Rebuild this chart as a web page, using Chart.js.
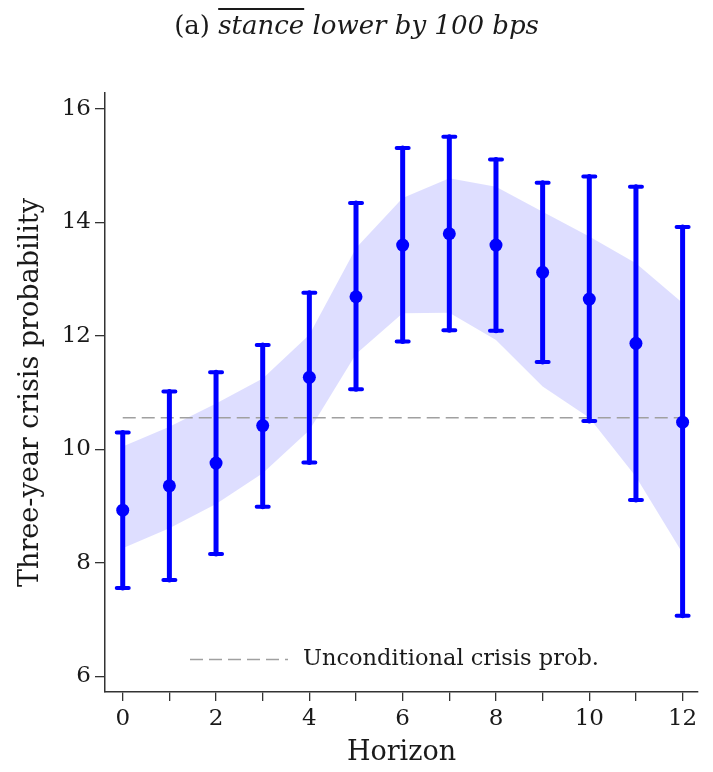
<!DOCTYPE html>
<html>
<head>
<meta charset="utf-8">
<script src="https://cdn.jsdelivr.net/npm/chart.js@4/dist/chart.umd.min.js"></script>
<style>
  html, body { margin: 0; padding: 0; background: #fff; }
  #wrap { position: relative; width: 713px; height: 772px; }
  #baslik {
    position: absolute; left: 0; top: 7px; width: 713px; text-align: center;
    font-family: 'DejaVu Serif', serif; font-size: 26px; line-height: 36px; color: #1a1a1a;
  }
  #baslik em { font-style: italic; }
  #baslik .ust { text-decoration: overline; text-decoration-thickness: 1.5px; }
</style>
</head>
<body>
<div id="wrap">
  <div id="baslik">(a) <em><span class="ust">stance</span> lower by 100 bps</em></div>
  <canvas id="chartKriz" width="713" height="772"></canvas>
</div>
<script>
// ── DATA ─────────────────────────────────────────
const HORIZON   = [0, 1, 2, 3, 4, 5, 6, 7, 8, 9, 10, 11, 12];
const NOKTA     = [8.93, 9.36, 9.76, 10.42, 11.27, 12.69, 13.60, 13.80, 13.60, 13.12, 12.65, 11.87, 10.48];
const HATA_ALT  = [7.56, 7.70, 8.16, 8.99, 9.77, 11.06, 11.90, 12.10, 12.09, 11.54, 10.50, 9.11, 7.07];
const HATA_UST  = [10.30, 11.02, 11.36, 11.84, 12.76, 14.34, 15.31, 15.51, 15.11, 14.70, 14.81, 14.63, 13.92];
const BANT_ALT  = [8.26, 8.61, 9.04, 9.58, 10.34, 11.68, 12.40, 12.41, 11.93, 11.11, 10.56, 9.52, 8.17];
const BANT_UST  = [10.05, 10.40, 10.81, 11.25, 12.02, 13.55, 14.43, 14.78, 14.63, 14.19, 13.75, 13.28, 12.58];
const KOSULSUZ  = 10.56;                 // unconditional crisis prob.
const X_TICKS   = [0, 1, 2, 3, 4, 5, 6, 7, 8, 9, 10, 11, 12];
const Y_TICKS   = [6, 8, 10, 12, 14, 16];

const MAVI  = '#0000ff';
const YAZI  = '#1a1a1a';
const EKSEN = '#333333';
const FONT  = "'DejaVu Serif', serif";

const pts = arr => HORIZON.map((h, i) => ({ x: h, y: arr[i] }));

// error bars, drawn right after the dashed line so points sit on top
const hataCubuklari = {
  id: 'hata-cubuklari',
  afterDatasetDraw(chart, args) {
    if (args.index !== 2) return;
    const { ctx: c, scales: { x, y } } = chart;
    c.save();
    c.strokeStyle = MAVI; c.lineCap = 'round';
    HORIZON.forEach((h, i) => {
      const px = x.getPixelForValue(h);
      const lo = y.getPixelForValue(HATA_ALT[i]);
      const hi = y.getPixelForValue(HATA_UST[i]);
      c.lineWidth = 5;
      c.beginPath(); c.moveTo(px, lo); c.lineTo(px, hi); c.stroke();
      c.lineWidth = 4;
      c.beginPath();
      c.moveTo(px - 6, lo); c.lineTo(px + 6, lo);
      c.moveTo(px - 6, hi); c.lineTo(px + 6, hi);
      c.stroke();
    });
    c.restore();
  }
};

// legend inside the plot, bottom left
const icLejant = {
  id: 'ic-lejant',
  afterDraw(chart) {
    const ds = chart.data.datasets[2];
    const { ctx: c, chartArea, scales: { y } } = chart;
    const ly = y.getPixelForValue(6.3);
    const lx = chartArea.left + 85;
    c.save();
    c.strokeStyle = ds.borderColor; c.lineWidth = ds.borderWidth;
    c.setLineDash(ds.borderDash);
    c.beginPath(); c.moveTo(lx, ly); c.lineTo(lx + 98, ly); c.stroke();
    c.setLineDash([]);
    c.fillStyle = YAZI; c.font = `22.5px ${FONT}`;
    c.textBaseline = 'middle'; c.textAlign = 'left';
    c.fillText(ds.label, lx + 113, ly);
    c.restore();
  }
};

new Chart(document.getElementById('chartKriz'), {
  type: 'line',
  data: {
    datasets: [
      { label: 'band-low', data: pts(BANT_ALT), borderWidth: 0, pointRadius: 0, fill: false, tension: 0, order: 5 },
      { label: 'band-high', data: pts(BANT_UST), borderWidth: 0, pointRadius: 0, tension: 0,
        fill: '-1', backgroundColor: 'rgba(0,0,255,0.13)', order: 4 },
      { label: 'Unconditional crisis prob.', data: [{ x: 0, y: KOSULSUZ }, { x: 12, y: KOSULSUZ }],
        borderColor: '#a0a0a0', borderWidth: 1.5, borderDash: [13, 6], pointRadius: 0, fill: false, order: 3 },
      { label: 'point', data: pts(NOKTA), showLine: false, pointRadius: 6.5,
        pointBackgroundColor: MAVI, pointBorderColor: MAVI, pointBorderWidth: 0, order: 1 }
    ]
  },
  options: {
    responsive: false, animation: false, devicePixelRatio: 1,
    layout: { padding: { top: 93, right: 15, bottom: 0, left: 0 } },
    plugins: { legend: { display: false }, tooltip: { enabled: false } },
    scales: {
      x: {
        type: 'linear', min: -0.38, max: 12.33,
        afterBuildTicks: s => { s.ticks = X_TICKS.map(v => ({ value: v })); },
        afterFit: s => { s.height = 80; },
        grid: { drawOnChartArea: false, color: EKSEN, lineWidth: 1.3, tickLength: 9 },
        border: { color: EKSEN, width: 1.5 },
        ticks: { color: YAZI, font: { family: FONT, size: 23 }, padding: 4, autoSkip: false, maxRotation: 0,
          callback: v => (v % 2 === 0 ? String(v) : '') },
        title: { display: true, text: 'Horizon', color: YAZI, font: { family: FONT, size: 27 }, padding: { top: 0, bottom: 3 } }
      },
      y: {
        type: 'linear', min: 5.727, max: 16.28,
        afterBuildTicks: s => { s.ticks = Y_TICKS.map(v => ({ value: v })); },
        afterFit: s => { s.width = 105; },
        grid: { drawOnChartArea: false, color: EKSEN, lineWidth: 1.3, tickLength: 10 },
        border: { color: EKSEN, width: 1.5 },
        ticks: { color: YAZI, font: { family: FONT, size: 23 }, padding: 4 },
        title: { display: true, text: 'Three-year crisis probability', color: YAZI,
          font: { family: FONT, size: 27 }, padding: { top: 15, bottom: 0 } }
      }
    }
  },
  plugins: [hataCubuklari, icLejant]
});
</script>
</body>
</html>
